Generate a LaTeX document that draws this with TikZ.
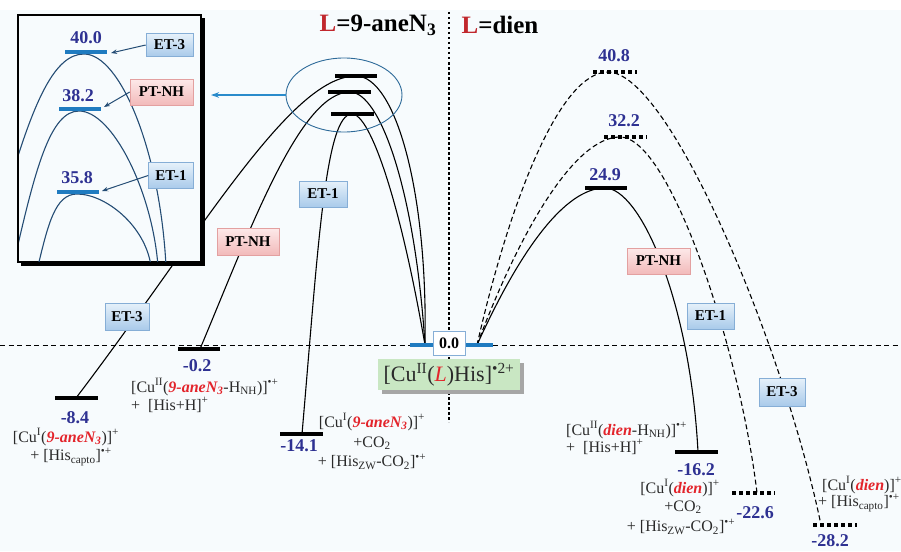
\documentclass[tikz,border=0pt]{standalone}
\usepackage{fontspec}
\setmainfont{Liberation Serif}
\usetikzlibrary{arrows.meta,shapes.geometric}
\definecolor{bgc}{HTML}{F7FBFD}
\definecolor{valc}{HTML}{2E3192}
\definecolor{barblue}{HTML}{1F7BC0}
\definecolor{curveblue}{HTML}{244C74}
\definecolor{arrowblue}{HTML}{2A8BCB}
\definecolor{ellc}{HTML}{2D6A99}
\definecolor{redl}{HTML}{E3242B}
\definecolor{hdrred}{HTML}{C1272D}
\definecolor{txtc}{HTML}{2A2A2A}
\definecolor{etTop}{HTML}{E6F1FA}
\definecolor{etBot}{HTML}{A9CAEA}
\definecolor{etDraw}{HTML}{86AED6}
\definecolor{ptTop}{HTML}{FDE9E9}
\definecolor{ptBot}{HTML}{F2BABA}
\definecolor{ptDraw}{HTML}{E3A0A0}
\definecolor{greenbox}{HTML}{C9E7C3}
\newcommand\valfont{\fontsize{18}{18}\selectfont\bfseries}
\newcommand\lblfont{\fontsize{15}{15}\selectfont\bfseries}
\newcommand\prodfont{\fontsize{16}{19}\selectfont}
\newcommand\redlig[1]{\textcolor{redl}{\bfseries\itshape #1}}
\begin{document}
\begin{tikzpicture}[x=1pt,y=-1pt,
  etbox/.style={draw=etDraw, line width=0.6pt, top color=etTop, bottom color=etBot, font=\lblfont, inner sep=0pt, minimum width=47pt, minimum height=26pt},
  ptbox/.style={draw=ptDraw, line width=0.6pt, top color=ptTop, bottom color=ptBot, font=\lblfont, inner sep=0pt, minimum width=63pt, minimum height=26pt},
  val/.style={text=valc, font=\valfont, inner sep=0pt},
  prod/.style={text=txtc, font=\prodfont, inner sep=0pt},
  curve/.style={line width=1.1pt, black},
  dcurve/.style={line width=1.1pt, black, dash pattern=on 5pt off 3pt},
  icurve/.style={line width=1.1pt, curveblue},
  tsbar/.style={line width=4pt},
  dbar/.style={line width=4pt, dash pattern=on 4pt off 3pt},
  bbar/.style={line width=4pt, barblue},
  inarrow/.style={line width=1pt, curveblue, -{Stealth[length=6pt,width=4.5pt]}},
  hdr/.style={font=\fontsize{25}{25}\selectfont\bfseries, inner sep=0pt}
]
\useasboundingbox (0,0) rectangle (901,551);
\fill[white] (0,0) rectangle (901,551);
\fill[bgc] (0,10) rectangle (901,551);

% reference lines
\coordinate (hl) at (0,345); \coordinate (hr) at (901,345);
\coordinate (vt) at (449,12); \coordinate (vb) at (449,422);
\draw[line width=0.9pt, dash pattern=on 5pt off 3.5pt] (hl) -- (hr);
\draw[line width=1.3pt, dash pattern=on 2.5pt off 2.5pt] (vt) -- (vb);

% key points
\coordinate (r0L) at (425,345); \coordinate (r0R) at (477,345);
\coordinate (t40) at (356,76); \coordinate (t38) at (350,92); \coordinate (t36) at (352,114);
\coordinate (p84) at (76,398); \coordinate (p02) at (200,349); \coordinate (p141) at (302,434);
\coordinate (t249) at (605,188); \coordinate (t322) at (620,137); \coordinate (t408) at (608,72);
\coordinate (p162) at (698,452); \coordinate (p226) at (757,493); \coordinate (p282) at (821,525);

% left curves
\draw[curve] (p84) .. controls (200,235) and (290,76) .. (t40) .. controls (395,76) and (428,190) .. (r0L);
\draw[curve] (p02) .. controls (250,230) and (300,92) .. (t38) .. controls (380,92) and (415,190) .. (r0L);
\draw[curve] (p141) .. controls (318,250) and (325,114) .. (t36) .. controls (370,114) and (400,200) .. (r0L);

% right curves
\draw[curve] (r0R) .. controls (520,250) and (565,188) .. (t249) .. controls (640,188) and (690,300) .. (p162);
\draw[dcurve] (r0R) .. controls (520,230) and (575,137) .. (t322) .. controls (670,137) and (740,350) .. (p226);
\draw[dcurve] (r0R) .. controls (510,200) and (560,72) .. (t408) .. controls (670,72) and (785,350) .. (p282);

% inset
\fill[black] (21,18) rectangle (204.5,265.5);
\fill[bgc] (18,15) rectangle (201,262);
\draw[line width=1.8pt] (18,15) rectangle (201,262);
\begin{scope}
\clip (19,16) rectangle (200,261);
\coordinate (i40) at (84,54); \coordinate (i38) at (79,111); \coordinate (i36) at (77,194);
\draw[icurve] (12,175) .. controls (35,100) and (55,54) .. (i40) .. controls (120,54) and (160,150) .. (166,266);
\draw[icurve] (14,262) .. controls (35,170) and (50,111) .. (i38) .. controls (112,111) and (152,190) .. (158,266);
\draw[icurve] (38,266) .. controls (48,225) and (55,194) .. (i36) .. controls (105,194) and (145,225) .. (151,266);
\end{scope}
\coordinate (ib40a) at (65,52); \coordinate (ib40b) at (107,52);
\coordinate (ib38a) at (59,109); \coordinate (ib38b) at (101,109);
\coordinate (ib36a) at (57,192); \coordinate (ib36b) at (99,192);
\draw[bbar] (ib40a) -- (ib40b);
\draw[bbar] (ib38a) -- (ib38b);
\draw[bbar] (ib36a) -- (ib36b);
\node[val] (iv40) at (86,37.5) {40.0};
\node[val] (iv38) at (78,96) {38.2};
\node[val] (iv36) at (77,177.5) {35.8};
\node[etbox, minimum height=23pt] (iet3) at (169.5,45) {ET-3};
\node[ptbox] (ipt) at (161.5,92) {PT-NH};
\node[etbox, minimum width=45pt] (iet1) at (171,175.5) {ET-1};
\coordinate (ia40) at (111,53); \coordinate (ia38) at (104,107); \coordinate (ia36) at (102,191);
\draw[inarrow] (iet3.west) -- (ia40);
\draw[inarrow] (ipt.west) -- (ia38);
\draw[inarrow] (iet1.west) -- (ia36);

% TS bars left
\coordinate (t40a) at (335,76); \coordinate (t40b) at (377,76);
\coordinate (t38a) at (328,92); \coordinate (t38b) at (371,92);
\coordinate (t36a) at (331,114); \coordinate (t36b) at (374,114);
\draw[tsbar] (t40a) -- (t40b);
\draw[tsbar] (t38a) -- (t38b);
\draw[tsbar] (t36a) -- (t36b);

% ellipse + arrow
\node[draw=ellc, line width=0.9pt, ellipse, minimum width=116pt, minimum height=74pt, inner sep=0pt] (ell) at (344,95) {};
\coordinate (insetArrow) at (211,95);
\draw[line width=1.4pt, arrowblue, -{Stealth[length=8pt,width=5.5pt]}] (ell.west) -- (insetArrow);

% product bars left
\coordinate (p84a) at (55,398); \coordinate (p84b) at (98,398);
\coordinate (p02a) at (178,349); \coordinate (p02b) at (220,349);
\coordinate (p141a) at (280,434); \coordinate (p141b) at (323,434);
\draw[tsbar] (p84a) -- (p84b);
\draw[tsbar] (p02a) -- (p02b);
\draw[tsbar] (p141a) -- (p141b);

% right bars
\coordinate (t249a) at (585,188); \coordinate (t249b) at (627,188);
\coordinate (t322a) at (604,137); \coordinate (t322b) at (647,137);
\coordinate (t408a) at (593,72); \coordinate (t408b) at (637,72);
\coordinate (p162a) at (675,452); \coordinate (p162b) at (718,452);
\coordinate (p226a) at (732,493); \coordinate (p226b) at (775,493);
\coordinate (p282a) at (813,525); \coordinate (p282b) at (857,525);
\draw[tsbar] (t249a) -- (t249b);
\draw[dbar] (t322a) -- (t322b);
\draw[dbar] (t408a) -- (t408b);
\draw[tsbar] (p162a) -- (p162b);
\draw[dbar] (p226a) -- (p226b);
\draw[dbar] (p282a) -- (p282b);

% reactant bars and box
\coordinate (rb1a) at (410,345); \coordinate (rb1b) at (433,345);
\coordinate (rb2a) at (465,345); \coordinate (rb2b) at (493,345);
\draw[bbar] (rb1a) -- (rb1b);
\draw[bbar] (rb2a) -- (rb2b);
\node[draw=etDraw, line width=0.8pt, fill=white, minimum width=32pt, minimum height=24pt, inner sep=0pt, font=\fontsize{16}{16}\selectfont\bfseries] (zero) at (449,343) {0.0};
\fill[black!35] (382,363) rectangle (524,394);
\node[fill=greenbox, minimum width=142pt, minimum height=31pt, inner sep=0pt, font=\fontsize{22}{22}\selectfont, text=txtc] (react) at (449,374.5) {[Cu\textsuperscript{II}(\textcolor{redl}{\itshape L})His]\textsuperscript{\textbullet2+}};

% path labels
\node[etbox, minimum width=44pt, minimum height=27pt] (et3L) at (127,316.5) {ET-3};
\node[ptbox, minimum width=62pt, minimum height=27pt] (ptL) at (248,241.5) {PT-NH};
\node[etbox, minimum width=48pt] (et1L) at (323,194) {ET-1};
\node[ptbox] (ptR) at (658.5,261) {PT-NH};
\node[etbox] (et1R) at (710.5,316) {ET-1};
\node[etbox, minimum width=46pt, minimum height=28pt] (et3R) at (782,392) {ET-3};

% values
\node[val] (v84) at (75,417.5) {-8.4};
\node[val] (v02) at (197,366) {-0.2};
\node[val] (v141) at (299,446) {-14.1};
\node[val] (v162) at (696,470) {-16.2};
\node[val] (v226) at (755,512.5) {-22.6};
\node[val] (v282) at (830,541) {-28.2};
\node[val] (v408) at (614,56) {40.8};
\node[val] (v322) at (624,121) {32.2};
\node[val] (v249) at (605,174.5) {24.9};

% product texts
\node[prod] (s84a) at (66,437) {[Cu\textsuperscript{I}(\redlig{9-aneN\textsubscript{3}})]\textsuperscript{+}};
\node[prod] (s84b) at (71,457) {+ [His\textsubscript{capto}]\textsuperscript{\textbullet+}};
\node[prod, anchor=west] (s02a) at (131,387) {[Cu\textsuperscript{II}(\redlig{9-aneN\textsubscript{3}}-H\textsubscript{NH})]\textsuperscript{\textbullet+}};
\node[prod, anchor=west] (s02b) at (131,405) {+\ \ [His+H]\textsuperscript{+}};
\node[prod] (s141a) at (372,422) {[Cu\textsuperscript{I}(\redlig{9-aneN\textsubscript{3}})]\textsuperscript{+}};
\node[prod] (s141b) at (372,443) {+CO\textsubscript{2}};
\node[prod] (s141c) at (372,462) {+ [His\textsubscript{ZW}-CO\textsubscript{2}]\textsuperscript{\textbullet+}};
\node[prod, anchor=west] (s162a) at (566,430) {[Cu\textsuperscript{II}(\redlig{dien}-H\textsubscript{NH})]\textsuperscript{\textbullet+}};
\node[prod, anchor=west] (s162b) at (566,447) {+\ \ [His+H]\textsuperscript{+}};
\node[prod] (s226a) at (680,488) {[Cu\textsuperscript{I}(\redlig{dien})]\textsuperscript{+}};
\node[prod] (s226b) at (683,507) {+CO\textsubscript{2}};
\node[prod] (s226c) at (681,527) {+ [His\textsubscript{ZW}-CO\textsubscript{2}]\textsuperscript{\textbullet+}};
\node[prod, anchor=west] (s282a) at (822,485) {[Cu\textsuperscript{I}(\redlig{dien})]\textsuperscript{+}};
\node[prod, anchor=west] (s282b) at (818,503) {+ [His\textsubscript{capto}]\textsuperscript{\textbullet+}};

% headers
\node[hdr] (h1) at (378,25) {\textcolor{hdrred}{L}=9-aneN\textsubscript{3}};
\node[hdr] (h2) at (500,25) {\textcolor{hdrred}{L}=dien};
\end{tikzpicture}
\end{document}
